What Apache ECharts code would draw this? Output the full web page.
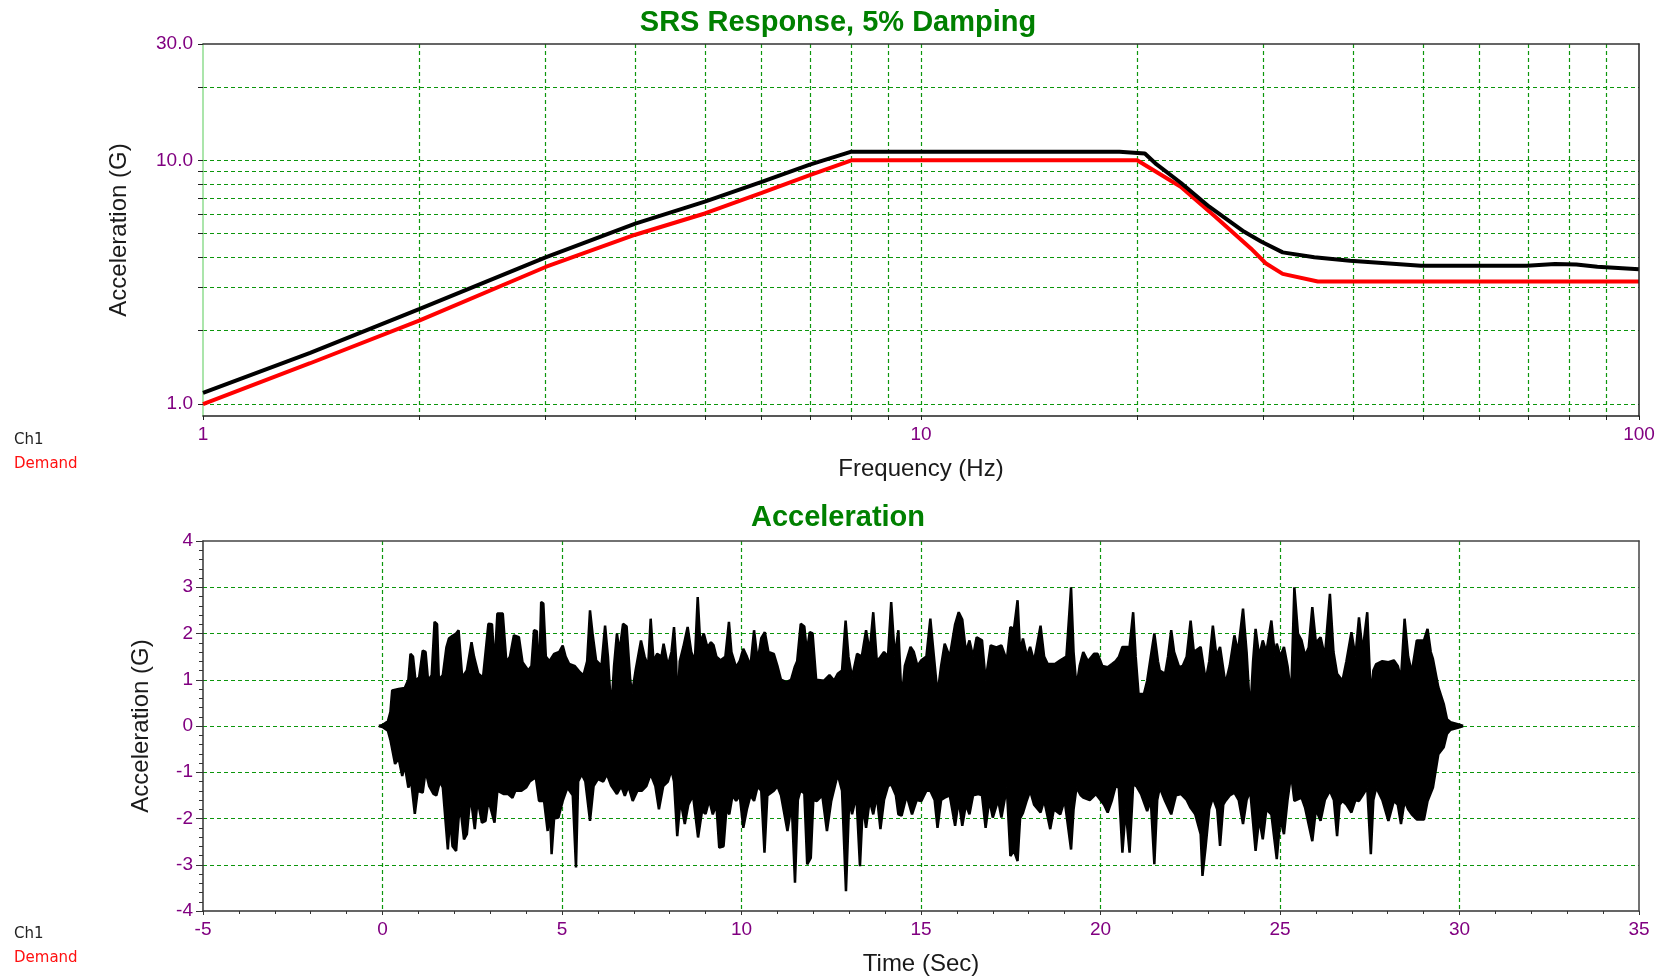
<!DOCTYPE html>
<html><head><meta charset="utf-8">
<script src="https://cdn.jsdelivr.net/npm/echarts@6/dist/echarts.min.js"></script>
<style>html,body{margin:0;padding:0;background:#fff}#c{width:1665px;height:980px}</style>
</head><body><div id="c"></div>
<script>
// ---------- SRS (top chart) ----------
const demandFreq = [1, 1.41, 2, 3, 4, 5, 6, 7, 8, 20, 23, 25.7, 28.8, 30.2, 31.9, 35.7, 100];
const demandG    = [1.0, 1.47, 2.2, 3.65, 4.95, 6.05, 7.35, 8.7, 10, 10, 7.79, 5.87, 4.35, 3.78, 3.42, 3.18, 3.18];
const ch1Freq = [1, 1.41, 2, 3, 4, 5, 6, 7, 8, 18.9, 19, 20.5, 21.2, 23, 25.2, 28.2, 29.8, 31.9, 35.3, 39.6, 43.4, 49.7, 69.8, 76.4, 81.8, 87.5, 100];
const ch1G    = [1.11, 1.62, 2.45, 4.0, 5.5, 6.77, 8.15, 9.6, 10.85, 10.85, 10.67, 10.67, 9.72, 8.09, 6.45, 5.09, 4.63, 4.19, 4.0, 3.87, 3.80, 3.69, 3.69, 3.75, 3.74, 3.66, 3.57];
const srsFreqTicks = [1,2,3,4,5,6,7,8,9,10,20,30,40,50,60,70,80,90,100];
const srsFreqLabels = [1,10,100];
const srsAccTicks = [1,2,3,4,5,6,7,8,9,10,20,30];
const srsAccLabels = [1,10,30];

// ---------- Acceleration time history (bottom chart), envelope ----------
const accUpper = [[-0.1,0],[0,0.02],[0.15,0.1],[0.22,0.3],[0.27,0.77],[0.45,0.8],[0.62,0.82],[0.72,1.0],[0.78,1.56],[0.85,1.5],[0.92,0.98],[1.02,1.05],[1.12,1.63],[1.2,1.6],[1.27,0.98],[1.37,1.1],[1.45,2.25],[1.52,2.2],[1.57,1.0],[1.68,1.1],[1.78,1.7],[1.85,1.89],[1.95,1.95],[2.05,2.0],[2.12,2.07],[2.22,1.05],[2.35,1.2],[2.48,1.81],[2.55,1.5],[2.67,1.13],[2.8,1.05],[2.95,2.21],[3.05,2.2],[3.12,1.3],[3.2,2.43],[3.35,2.43],[3.45,1.38],[3.55,1.5],[3.66,1.96],[3.8,1.92],[3.9,1.38],[4.06,1.2],[4.15,1.3],[4.22,2.07],[4.3,2.05],[4.36,1.0],[4.42,2.68],[4.48,2.65],[4.55,1.5],[4.65,1.4],[4.78,1.56],[4.92,1.6],[5.02,1.74],[5.1,1.5],[5.2,1.34],[5.35,1.3],[5.5,1.16],[5.6,1.1],[5.7,1.4],[5.78,2.5],[5.85,2.0],[5.95,1.42],[6.1,1.3],[6.2,2.17],[6.28,1.5],[6.37,0.33],[6.45,1.3],[6.53,2.0],[6.6,1.6],[6.7,2.21],[6.8,2.15],[6.9,1.0],[6.95,0.7],[7.05,1.2],[7.2,1.85],[7.3,1.5],[7.4,1.3],[7.47,2.32],[7.55,1.4],[7.65,1.56],[7.77,1.5],[7.83,1.78],[7.95,1.3],[8.05,1.6],[8.12,2.14],[8.18,1.4],[8.21,0.33],[8.28,1.4],[8.38,1.71],[8.5,2.14],[8.6,1.6],[8.7,1.4],[8.78,2.79],[8.85,1.8],[8.95,2.0],[9.05,1.7],[9.15,1.81],[9.22,1.75],[9.3,1.5],[9.42,1.42],[9.55,1.5],[9.65,2.25],[9.72,1.6],[9.85,1.27],[9.95,1.4],[10.05,1.67],[10.15,1.5],[10.25,1.3],[10.35,2.07],[10.45,1.4],[10.55,1.9],[10.65,2.03],[10.75,1.6],[10.9,1.56],[11.0,1.3],[11.1,1.0],[11.25,0.95],[11.38,1.0],[11.48,1.27],[11.55,1.4],[11.65,2.21],[11.75,2.15],[11.82,1.6],[11.9,2.03],[11.98,2.0],[12.08,1.0],[12.3,0.98],[12.45,1.1],[12.58,0.98],[12.68,1.13],[12.8,1.2],[12.9,2.28],[12.98,1.5],[13.08,1.05],[13.22,1.56],[13.35,1.5],[13.47,2.07],[13.57,1.6],[13.67,2.46],[13.77,1.4],[13.87,1.49],[13.97,1.6],[14.08,1.5],[14.17,2.68],[14.27,1.5],[14.37,2.07],[14.46,0.55],[14.55,1.3],[14.71,1.71],[14.8,1.6],[14.9,1.3],[15.01,1.42],[15.15,1.5],[15.26,2.32],[15.36,1.5],[15.46,0.69],[15.56,1.3],[15.66,1.78],[15.8,1.5],[15.95,2.2],[16.05,2.46],[16.15,2.3],[16.25,1.6],[16.35,1.85],[16.45,1.5],[16.55,1.92],[16.7,1.85],[16.8,0.98],[16.94,1.74],[17.1,1.7],[17.24,1.74],[17.39,1.42],[17.49,2.14],[17.59,2.1],[17.69,2.72],[17.76,1.6],[17.84,1.89],[17.95,1.5],[18.04,1.71],[18.15,1.4],[18.33,2.17],[18.43,1.5],[18.53,1.34],[18.73,1.34],[18.88,1.42],[19.05,1.5],[19.18,3.0],[19.25,1.6],[19.33,0.84],[19.42,1.3],[19.52,1.6],[19.65,1.4],[19.82,1.56],[19.92,1.56],[20.05,1.3],[20.2,1.27],[20.32,1.34],[20.42,1.4],[20.51,1.49],[20.61,1.71],[20.81,1.71],[20.91,2.46],[20.98,1.5],[21.06,0.69],[21.21,0.69],[21.3,0.98],[21.4,1.5],[21.5,2.0],[21.6,1.4],[21.65,1.2],[21.8,1.13],[21.88,1.5],[21.97,2.07],[22.05,1.6],[22.19,1.27],[22.29,1.3],[22.4,1.5],[22.51,2.28],[22.6,1.6],[22.64,1.63],[22.79,1.71],[22.93,0.98],[23.03,1.4],[23.13,2.17],[23.23,1.5],[23.33,1.71],[23.48,0.91],[23.6,1.3],[23.73,1.96],[23.83,1.6],[23.97,2.54],[24.07,1.6],[24.17,0.26],[24.25,1.4],[24.32,2.1],[24.42,1.5],[24.52,1.85],[24.62,1.6],[24.76,2.28],[24.86,1.5],[24.91,1.78],[25.01,1.5],[25.11,1.71],[25.21,1.3],[25.31,0.66],[25.4,3.0],[25.5,2.0],[25.6,1.85],[25.7,1.52],[25.8,1.7],[25.9,2.57],[26.0,1.8],[26.13,1.92],[26.25,1.5],[26.39,2.86],[26.49,1.6],[26.59,1.13],[26.74,0.98],[26.85,1.4],[26.99,2.03],[27.1,1.5],[27.2,2.35],[27.3,1.6],[27.43,2.46],[27.53,0.62],[27.6,1.2],[27.68,1.34],[27.85,1.4],[28.02,1.38],[28.17,1.42],[28.28,1.3],[28.37,1.02],[28.47,2.32],[28.57,1.5],[28.67,1.16],[28.81,1.85],[29.01,1.85],[29.11,2.1],[29.2,1.6],[29.26,1.45],[29.41,0.84],[29.56,0.48],[29.65,0.15],[29.75,0.08],[30.0,0.03],[30.1,0]];
const accLower = [[-0.1,0],[0,-0.02],[0.15,-0.1],[0.22,-0.3],[0.27,-0.5],[0.35,-0.82],[0.45,-0.7],[0.55,-1.08],[0.62,-0.85],[0.72,-1.33],[0.8,-1.2],[0.9,-1.9],[0.98,-1.4],[1.12,-1.44],[1.2,-0.97],[1.3,-1.3],[1.42,-1.47],[1.5,-1.5],[1.6,-1.2],[1.68,-1.33],[1.82,-2.67],[1.88,-2.0],[1.95,-2.6],[2.05,-2.7],[2.12,-2.0],[2.17,-1.76],[2.27,-2.45],[2.35,-2.34],[2.45,-1.5],[2.57,-2.23],[2.65,-1.6],[2.77,-2.09],[2.87,-2.05],[2.95,-1.6],[3.12,-2.09],[3.2,-1.4],[3.37,-1.47],[3.5,-1.47],[3.62,-1.55],[3.7,-1.4],[3.87,-1.4],[4.0,-1.33],[4.1,-1.2],[4.27,-1.11],[4.36,-1.62],[4.5,-1.62],[4.6,-2.27],[4.66,-1.8],[4.71,-2.77],[4.78,-2.0],[4.9,-1.98],[5.02,-1.62],[5.15,-1.33],[5.3,-1.5],[5.39,-3.06],[5.45,-1.2],[5.55,-1.04],[5.65,-1.2],[5.78,-2.05],[5.88,-1.3],[6.0,-1.15],[6.15,-1.2],[6.25,-1.04],[6.37,-1.29],[6.53,-1.47],[6.65,-1.3],[6.75,-1.51],[6.85,-1.3],[6.97,-1.62],[7.1,-1.4],[7.22,-1.4],[7.35,-1.3],[7.47,-1.04],[7.6,-1.3],[7.7,-1.8],[7.82,-1.3],[7.95,-1.2],[8.05,-0.95],[8.12,-1.2],[8.21,-2.38],[8.3,-1.6],[8.42,-2.12],[8.52,-1.7],[8.65,-1.5],[8.79,-2.41],[8.9,-1.84],[9.0,-1.9],[9.1,-1.6],[9.2,-1.91],[9.3,-1.7],[9.38,-2.63],[9.5,-2.6],[9.58,-1.8],[9.66,-1.91],[9.75,-1.5],[9.85,-1.62],[9.95,-1.5],[10.05,-2.2],[10.15,-1.8],[10.25,-1.5],[10.35,-1.62],[10.45,-1.3],[10.55,-1.4],[10.64,-2.74],[10.72,-1.5],[10.9,-1.4],[11.0,-1.3],[11.1,-1.5],[11.28,-2.27],[11.4,-1.7],[11.49,-3.39],[11.57,-1.6],[11.64,-1.4],[11.75,-1.45],[11.83,-2.99],[11.93,-2.85],[12.0,-1.6],[12.1,-1.62],[12.25,-1.5],[12.38,-2.27],[12.5,-1.62],[12.6,-1.3],[12.68,-1.04],[12.8,-1.4],[12.91,-3.57],[13.0,-1.6],[13.08,-1.91],[13.2,-1.5],[13.3,-3.03],[13.38,-1.7],[13.47,-2.2],[13.57,-1.6],[13.67,-1.91],[13.77,-1.5],[13.87,-2.23],[13.97,-1.6],[14.08,-1.3],[14.17,-1.26],[14.3,-1.5],[14.37,-1.91],[14.46,-1.94],[14.6,-1.5],[14.75,-1.91],[14.88,-1.6],[15.01,-1.62],[15.15,-1.4],[15.26,-1.4],[15.38,-1.6],[15.46,-2.2],[15.56,-1.6],[15.66,-1.55],[15.8,-1.5],[15.95,-2.16],[16.05,-1.6],[16.15,-2.16],[16.25,-1.7],[16.35,-1.91],[16.45,-1.5],[16.6,-1.47],[16.7,-1.5],[16.8,-2.2],[16.9,-1.6],[17.0,-1.98],[17.15,-1.6],[17.24,-1.98],[17.39,-1.33],[17.49,-2.81],[17.59,-2.7],[17.69,-2.92],[17.76,-2.0],[17.84,-1.88],[17.95,-1.6],[18.04,-1.4],[18.15,-1.7],[18.33,-1.87],[18.43,-1.6],[18.6,-2.23],[18.7,-1.8],[18.88,-1.91],[19.0,-1.6],[19.18,-2.67],[19.25,-1.8],[19.33,-1.33],[19.45,-1.5],[19.52,-1.55],[19.7,-1.6],[19.87,-1.47],[20.0,-1.6],[20.1,-1.7],[20.2,-1.87],[20.32,-1.6],[20.42,-1.3],[20.51,-1.33],[20.61,-2.74],[20.7,-1.8],[20.81,-2.74],[20.91,-1.26],[21.0,-1.3],[21.13,-1.47],[21.3,-1.84],[21.4,-1.6],[21.5,-2.99],[21.58,-1.6],[21.65,-1.33],[21.8,-1.62],[21.97,-1.91],[22.1,-1.5],[22.24,-1.47],[22.4,-1.6],[22.51,-1.77],[22.64,-1.91],[22.79,-2.34],[22.84,-3.24],[22.93,-2.6],[23.03,-1.8],[23.13,-1.55],[23.25,-1.8],[23.33,-2.59],[23.42,-1.7],[23.48,-1.62],[23.6,-1.5],[23.73,-1.44],[23.85,-1.6],[23.97,-2.12],[24.07,-1.6],[24.17,-1.4],[24.32,-2.7],[24.42,-2.0],[24.52,-2.45],[24.62,-1.8],[24.76,-1.91],[24.91,-2.88],[25.01,-2.0],[25.11,-2.34],[25.21,-1.6],[25.31,-1.04],[25.4,-1.62],[25.6,-1.55],[25.7,-1.77],[25.9,-2.49],[26.0,-1.8],[26.13,-2.05],[26.25,-1.6],[26.39,-1.4],[26.5,-1.6],[26.59,-2.38],[26.66,-1.7],[26.74,-1.62],[26.85,-1.7],[26.99,-1.87],[27.1,-1.6],[27.2,-1.62],[27.3,-1.5],[27.43,-1.33],[27.53,-2.77],[27.6,-1.6],[27.68,-1.33],[27.85,-1.6],[28.02,-2.05],[28.17,-1.62],[28.28,-1.7],[28.37,-2.12],[28.47,-1.62],[28.57,-1.8],[28.67,-1.91],[28.81,-2.02],[29.01,-2.02],[29.11,-1.62],[29.26,-1.33],[29.41,-0.61],[29.56,-0.46],[29.65,-0.17],[29.75,-0.08],[30.0,-0.03],[30.1,0]];

const GRID_GREEN = '#0c960c';
const LABEL_PURPLE = '#800080';
const FONT = "'Liberation Sans', Arial, sans-serif";

const zip = (a, b) => a.map((v, i) => [v, b[i]]);
const dashedSplit = (showMin, showMax) => ({show: true, showMinLine: showMin, showMaxLine: showMax,
  lineStyle: {color: GRID_GREEN, type: [4, 3], width: 1.2}});
const tickLabel = {color: LABEL_PURPLE, fontSize: 19, fontFamily: FONT};
const nameStyle = {color: '#1a1a1a', fontSize: 24, fontFamily: FONT};
const borderAxis = (color) => ({show: true, axisLine: {show: true, onZero: false, lineStyle: {color: color, width: 1.5}},
  axisTick: {show: false}, axisLabel: {show: false}, splitLine: {show: false}, z: 6});

const option = {
  animation: false,
  backgroundColor: '#fff',
  grid: [
    {left: 203, top: 44, width: 1436, height: 372},
    {left: 203, top: 541, width: 1436, height: 370}
  ],
  xAxis: [
    {gridIndex: 0, type: 'log', logBase: 10, min: 1, max: 100,
     name: 'Frequency (Hz)', nameLocation: 'middle', nameGap: 41, nameTextStyle: nameStyle,
     axisLine: {onZero: false, lineStyle: {color: '#222', width: 1.5}},
     axisTick: {show: true, length: 4, customValues: srsFreqTicks, lineStyle: {color: '#222'}},
     axisLabel: Object.assign({customValues: srsFreqLabels, margin: 9}, tickLabel),
     splitLine: dashedSplit(false, false)},
    Object.assign({gridIndex: 0, type: 'log', logBase: 10, min: 1, max: 100, position: 'top'}, borderAxis('#333')),
    {gridIndex: 1, type: 'value', min: -5, max: 35, interval: 5,
     name: 'Time (Sec)', nameLocation: 'middle', nameGap: 41, nameTextStyle: nameStyle,
     axisLine: {onZero: false, lineStyle: {color: '#333', width: 1.5}},
     axisTick: {show: true, length: 4, lineStyle: {color: '#333'}},
     minorTick: {show: true, splitNumber: 5, length: 3, lineStyle: {color: '#333'}},
     axisLabel: Object.assign({margin: 9}, tickLabel),
     splitLine: dashedSplit(false, false)},
    Object.assign({gridIndex: 1, type: 'value', min: -5, max: 35, position: 'top'}, borderAxis('#444'))
  ],
  yAxis: [
    {gridIndex: 0, type: 'log', logBase: 10, min: 0.893, max: 30,
     name: 'Acceleration (G)', nameLocation: 'middle', nameGap: 72, nameTextStyle: nameStyle,
     axisLine: {onZero: false, lineStyle: {color: '#8fdc8f', width: 1.5}},
     axisTick: {show: true, length: 5, customValues: srsAccTicks, lineStyle: {color: '#222'}},
     axisLabel: Object.assign({customValues: srsAccLabels, margin: 10, formatter: v => Number(v).toFixed(1)}, tickLabel),
     splitLine: dashedSplit(true, false)},
    Object.assign({gridIndex: 0, type: 'log', logBase: 10, min: 0.893, max: 30, position: 'right'}, borderAxis('#222')),
    {gridIndex: 1, type: 'value', min: -4, max: 4, interval: 1,
     name: 'Acceleration (G)', nameLocation: 'middle', nameGap: 50, nameTextStyle: nameStyle,
     axisLine: {onZero: false, lineStyle: {color: '#333', width: 1.5}},
     axisTick: {show: true, length: 7, lineStyle: {color: '#333'}},
     minorTick: {show: true, splitNumber: 5, length: 4, lineStyle: {color: '#333'}},
     axisLabel: Object.assign({margin: 10}, tickLabel),
     splitLine: dashedSplit(false, false)},
    Object.assign({gridIndex: 1, type: 'value', min: -4, max: 4, position: 'right'}, borderAxis('#444'))
  ],
  series: [
    {name: 'Demand', type: 'line', xAxisIndex: 0, yAxisIndex: 0, data: zip(demandFreq, demandG),
     showSymbol: false, symbol: 'none', lineStyle: {color: '#ff0000', width: 4}, z: 3},
    {name: 'Ch1', type: 'line', xAxisIndex: 0, yAxisIndex: 0, data: zip(ch1Freq, ch1G),
     showSymbol: false, symbol: 'none', lineStyle: {color: '#000000', width: 4}, z: 4},
    {name: 'Ch1 upper', type: 'line', xAxisIndex: 2, yAxisIndex: 2, data: accUpper,
     showSymbol: false, symbol: 'none', lineStyle: {color: '#000', width: 2.5},
     areaStyle: {color: '#000', opacity: 1, origin: 'auto'}, z: 4},
    {name: 'Ch1 lower', type: 'line', xAxisIndex: 2, yAxisIndex: 2, data: accLower,
     showSymbol: false, symbol: 'none', lineStyle: {color: '#000', width: 2.5},
     areaStyle: {color: '#000', opacity: 1, origin: 'auto'}, z: 4}
  ],
  graphic: [
    {type: 'text', x: 838, y: 23, style: {text: 'SRS Response, 5% Damping', fill: '#008000',
      font: "bold 29px 'Liberation Sans', Arial, sans-serif", textAlign: 'center', textVerticalAlign: 'middle'}},
    {type: 'text', x: 838, y: 518, style: {text: 'Acceleration', fill: '#008000',
      font: "bold 29px 'Liberation Sans', Arial, sans-serif", textAlign: 'center', textVerticalAlign: 'middle'}},
    {type: 'text', x: 14, y: 440, style: {text: 'Ch1', fill: '#222', font: "15px 'DejaVu Sans', sans-serif", textVerticalAlign: 'middle'}},
    {type: 'text', x: 14, y: 464, style: {text: 'Demand', fill: '#ff1010', font: "15px 'DejaVu Sans', sans-serif", textVerticalAlign: 'middle'}},
    {type: 'text', x: 14, y: 934, style: {text: 'Ch1', fill: '#222', font: "15px 'DejaVu Sans', sans-serif", textVerticalAlign: 'middle'}},
    {type: 'text', x: 14, y: 958, style: {text: 'Demand', fill: '#ff1010', font: "15px 'DejaVu Sans', sans-serif", textVerticalAlign: 'middle'}}
  ]
};
const chart = echarts.init(document.getElementById('c'));
chart.setOption(option);
</script>
</body></html>
